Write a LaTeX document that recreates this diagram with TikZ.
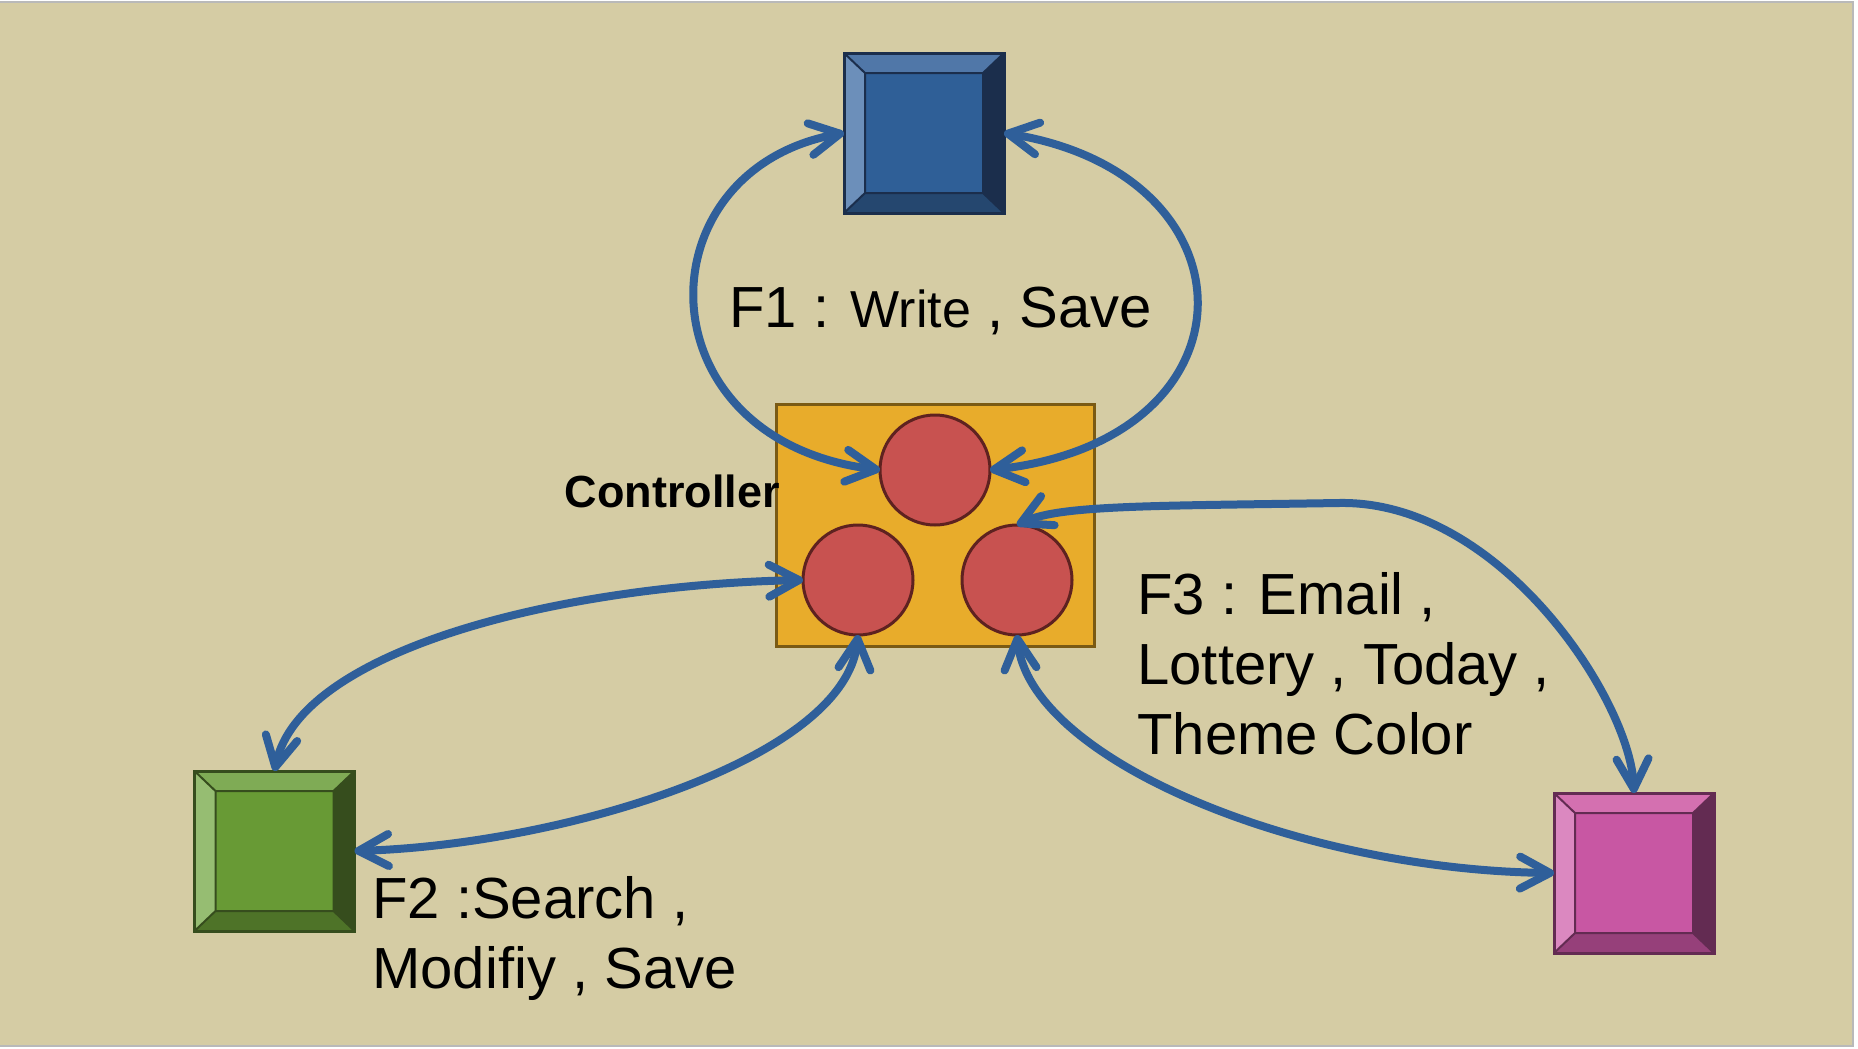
\documentclass[tikz,border=0pt]{standalone}
\usepackage{fontspec}
\setmainfont{Liberation Sans}
\usetikzlibrary{calc,arrows.meta}

\definecolor{bgtan}{HTML}{D5CCA4}
\definecolor{flowblue}{HTML}{2F5F9A}
\definecolor{ctrlfill}{HTML}{E8AC2B}
\definecolor{ctrlline}{HTML}{7A5A14}
\definecolor{ballfill}{HTML}{C85250}
\definecolor{ballline}{HTML}{5E2220}
\definecolor{bluefc}{HTML}{2F5F97}
\definecolor{bluetp}{HTML}{5077A8}
\definecolor{bluelf}{HTML}{6C8FBA}
\definecolor{bluebt}{HTML}{25476F}
\definecolor{bluert}{HTML}{1B2E4C}
\definecolor{greenfc}{HTML}{689A35}
\definecolor{greentp}{HTML}{7FAB55}
\definecolor{greenlf}{HTML}{96BD72}
\definecolor{greenbt}{HTML}{4E7328}
\definecolor{greenrt}{HTML}{364D1D}
\definecolor{pinkfc}{HTML}{C857A3}
\definecolor{pinktp}{HTML}{D470B0}
\definecolor{pinklf}{HTML}{DB88C0}
\definecolor{pinkbt}{HTML}{96407A}
\definecolor{pinkrt}{HTML}{632B52}

\begin{document}
\begin{tikzpicture}[x=0.5pt,y=-0.5pt,>={Straight Barb[length=15pt,width=16pt,round]},
        flow/.style={<->,draw=flowblue,line width=4pt},
        box/.style={minimum size=80pt,inner sep=0pt,outer sep=0pt},
        ball/.style={circle,fill=ballfill,draw=ballline,line width=1.5pt,minimum size=55pt,inner sep=0pt,outer sep=0pt},
        lbl/.style={font=\fontsize{29}{35}\selectfont,inner sep=0pt,align=left}]
                \useasboundingbox (0,0) rectangle (1858,1049);
                \fill[white] (0,0) rectangle (1858,1049);
                \draw[draw=gray!55,fill=bgtan,line width=1pt] (-10,2) rectangle (1853,1046);

                \node[box] (f1box) at (924,133) {};
                \node[box] (f2box) at (274.5,851) {};
                \node[box] (f3box) at (1634,873) {};

                \foreach \nm/\col in {f1box/blue,f2box/green,f3box/pink}{
                    \coordinate (a) at ($(\nm.north west)+(21,20)$);
                    \coordinate (b) at ($(\nm.north east)+(-21,20)$);
                    \coordinate (c) at ($(\nm.south east)+(-21,-20)$);
                    \coordinate (d) at ($(\nm.south west)+(21,-20)$);
                    \fill[fill=\col fc] (\nm.north west) rectangle (\nm.south east);
                    \fill[fill=\col tp] (\nm.north west) -- (\nm.north east) -- (b) -- (a) -- cycle;
                    \fill[fill=\col rt] (\nm.north east) -- (\nm.south east) -- (c) -- (b) -- cycle;
                    \fill[fill=\col bt] (\nm.south east) -- (\nm.south west) -- (d) -- (c) -- cycle;
                    \fill[fill=\col lf] (\nm.south west) -- (\nm.north west) -- (a) -- (d) -- cycle;
                    \draw[draw=\col rt,line width=1pt] (a) rectangle (c)
                        (\nm.north west) -- (a) (\nm.north east) -- (b)
                        (\nm.south east) -- (c) (\nm.south west) -- (d);
                    \draw[draw=\col rt,line width=1.5pt] (\nm.north west) rectangle (\nm.south east);
                }

                \node[fill=ctrlfill,draw=ctrlline,line width=1.5pt,minimum width=159pt,minimum height=121pt,inner sep=0pt,outer sep=0pt] (ctrl) at (935,525) {};
                \node[ball] (topball) at (935,470) {};
                \node[ball] (leftball) at (858,580) {};
                \node[ball] (rightball) at (1017,580) {};
                \node[font=\bfseries\fontsize{22.5}{26}\selectfont,inner sep=0pt,anchor=base east] (ctrltxt) at (780,507) {Controller};

                \draw[flow] (f1box.west) .. controls (640,170) and (640,440) .. (topball.west);
                \draw[flow] (f1box.east) .. controls (1262,175) and (1262,440) .. (topball.east);
                \draw[flow] (leftball.west) .. controls (560,585) and (300,650) .. (f2box.north);
                \draw[flow] (leftball.south) .. controls (845,760) and (560,845) .. (f2box.east);
                \draw[flow] (rightball.south) .. controls (1030,760) and (1300,870) .. (f3box.west);
                \draw[flow] (rightball.north) .. controls (1060,505) and (1150,506) .. (1339,503)
                    .. controls (1500,500) and (1630,700) .. (f3box.north);

                \node[lbl,anchor=base west] (f1txt) at (729,327) {F1 : {\fontsize{26}{30}\selectfont Write} , Save};
                \node[lbl,anchor=base west] (f2txt) at (372,988) {F2 :Search ,\\Modifiy , Save};
                \node[lbl,anchor=base west] (f3txt) at (1137,754) {F3 : Email ,\\Lottery , Today ,\\Theme Color};
\end{tikzpicture}
\end{document}
